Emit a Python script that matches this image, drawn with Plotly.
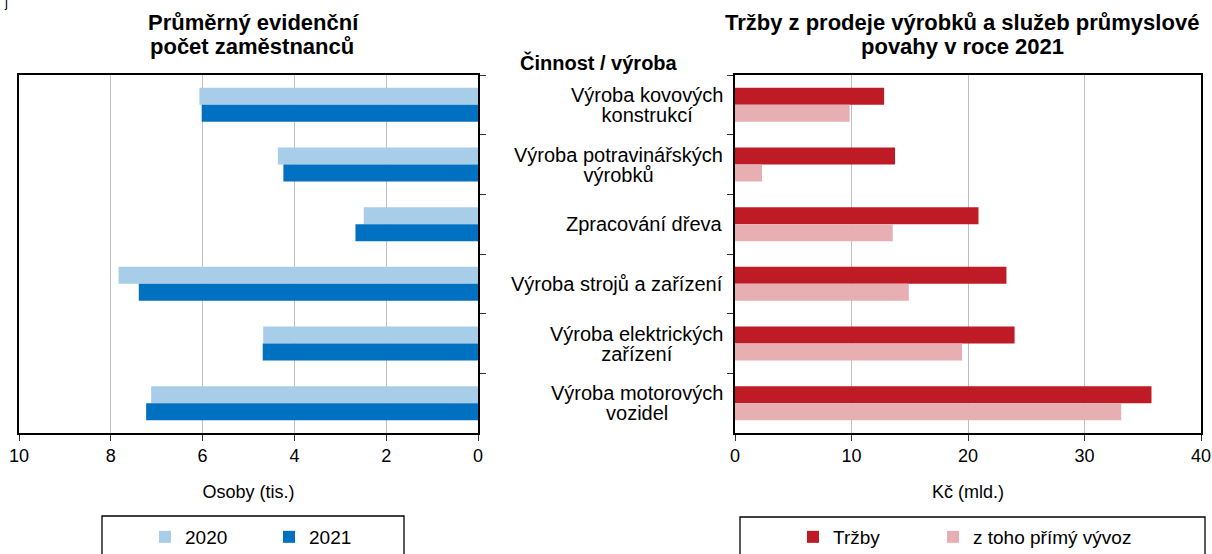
import plotly.graph_objects as go

W, H = 1212, 554

categories = [
    "Výroba kovových<br>konstrukcí",
    "Výroba potravinářských<br>výrobků",
    "Zpracování dřeva",
    "Výroba strojů a zařízení",
    "Výroba elektrických<br>zařízení",
    "Výroba motorových<br>vozidel",
]
cat_keys = ["c1", "c2", "c3", "c4", "c5", "c6"]

emp_2020 = [6.07, 4.36, 2.49, 7.83, 4.68, 7.12]
emp_2021 = [6.02, 4.24, 2.67, 7.39, 4.69, 7.23]

trzby = [12.8, 13.74, 20.9, 23.3, 24.0, 35.75]
vyvoz = [9.84, 2.32, 13.54, 14.92, 19.49, 33.15]

left_ticks = [10, 8, 6, 4, 2, 0]
right_ticks = [0, 10, 20, 30, 40]

C2020 = "#A7CDE8"
C2021 = "#0070C0"
CTRZ = "#BE1B26"
CVYV = "#E8AFB3"

FONT = "Liberation Sans, Arial, sans-serif"


def fx(px):
    return px / W


def fy(py):
    return 1 - py / H


fig = go.Figure()

fig.add_trace(go.Bar(y=cat_keys, x=emp_2020, orientation="h", name="2020",
                     marker=dict(color=C2020, line=dict(width=0)),
                     xaxis="x", yaxis="y", legend="legend", legendwidth=79))
fig.add_trace(go.Bar(y=cat_keys, x=emp_2021, orientation="h", name="2021",
                     marker=dict(color=C2021, line=dict(width=0)),
                     xaxis="x", yaxis="y", legend="legend", legendwidth=79))
fig.add_trace(go.Bar(y=cat_keys, x=trzby, orientation="h", name="Tržby",
                     marker=dict(color=CTRZ, line=dict(width=0)),
                     xaxis="x2", yaxis="y2", legend="legend2", legendwidth=95))
fig.add_trace(go.Bar(y=cat_keys, x=vyvoz, orientation="h", name="z toho přímý vývoz",
                     marker=dict(color=CVYV, line=dict(width=0)),
                     xaxis="x2", yaxis="y2", legend="legend2", legendwidth=190))

axis_common = dict(showline=True, linecolor="black", linewidth=1.6, mirror=True,
                   ticks="outside", ticklen=6, tickwidth=1.3, tickcolor="#333",
                   zeroline=False, automargin=False)

fig.update_layout(
    width=W, height=H,
    margin=dict(l=0, r=0, t=0, b=0, pad=0, autoexpand=False),
    paper_bgcolor="white", plot_bgcolor="white",
    font=dict(family=FONT, color="black", size=16),
    barmode="group", bargap=0.43, bargroupgap=0,
    xaxis=dict(domain=[fx(19), fx(478)], range=[10, 0], tickvals=left_ticks,
               showgrid=True, gridcolor="#C0C0C0", gridwidth=1,
               tickfont=dict(size=18), ticklabelstandoff=0,
               title=dict(text="Osoby (tis.)", font=dict(size=18), standoff=20),
               anchor="y", **axis_common),
    yaxis=dict(domain=[fy(433), fy(75)], type="category", categoryarray=cat_keys,
               range=[5.5, -0.5], side="right", tickson="boundaries",
               showticklabels=False, showgrid=False, anchor="x", **axis_common),
    xaxis2=dict(domain=[fx(735), fx(1201)], range=[0, 40], tickvals=right_ticks,
                showgrid=True, gridcolor="#C0C0C0", gridwidth=1,
                tickfont=dict(size=18), ticklabelstandoff=0,
                title=dict(text="Kč (mld.)", font=dict(size=18), standoff=20),
                anchor="y2", **axis_common),
    yaxis2=dict(domain=[fy(433), fy(75)], type="category", categoryarray=cat_keys,
                range=[5.5, -0.5], side="left", tickson="boundaries",
                showticklabels=False, showgrid=False, anchor="x2", **axis_common),
    legend=dict(orientation="h", x=fx(145), y=fy(537), xanchor="left", yanchor="middle",
                font=dict(size=19), bgcolor="rgba(0,0,0,0)",
                borderwidth=0, traceorder="normal"),
    legend2=dict(orientation="h", x=fx(793), y=fy(537), xanchor="left", yanchor="middle",
                 font=dict(size=19), bgcolor="rgba(0,0,0,0)",
                 borderwidth=0, traceorder="normal"),
    showlegend=True,
)

# legend boxes
fig.add_shape(type="rect", xref="paper", yref="paper",
              x0=fx(102), x1=fx(404), y0=fy(560), y1=fy(516),
              line=dict(color="black", width=1.3), fillcolor="rgba(0,0,0,0)", layer="below")
fig.add_shape(type="rect", xref="paper", yref="paper",
              x0=fx(740), x1=fx(1205), y0=fy(560), y1=fy(517),
              line=dict(color="black", width=1.3), fillcolor="rgba(0,0,0,0)", layer="below")

annotations = [
    dict(text="<b>Průměrný evidenční</b>", x=fx(253), y=fy(22),
         xanchor="center", yanchor="middle", font=dict(size=22)),
    dict(text="<b>počet zaměstnanců</b>", x=fx(252), y=fy(47),
         xanchor="center", yanchor="middle", font=dict(size=22)),
    dict(text="<b>Tržby z prodeje výrobků a služeb průmyslové</b>",
         x=fx(962), y=fy(22), xanchor="center", yanchor="middle", font=dict(size=22)),
    dict(text="<b>povahy v roce 2021</b>",
         x=fx(962), y=fy(47), xanchor="center", yanchor="middle", font=dict(size=22)),
    dict(text="<b>Činnost / výroba</b>", x=fx(518), y=fy(62), xanchor="left",
         yanchor="middle", font=dict(size=20)),
    dict(text="j", x=fx(2), y=fy(3), xanchor="left", yanchor="middle", font=dict(size=13)),
]
for key, label in zip(cat_keys, categories):
    styled = "<br>".join(
        '<span style="font-size:20px">' + part + "</span>" for part in label.split("<br>")
    )
    annotations.append(dict(text=styled, xref="paper", yref="y2", x=fx(725), y=key,
                            xanchor="right", yanchor="middle", align="center",
                            showarrow=False, font=dict(size=15.5)))
for a in annotations:
    a.setdefault("xref", "paper")
    a.setdefault("yref", "paper")
    a.setdefault("showarrow", False)
fig.update_layout(annotations=annotations)

fig.write_html(
    "out.html",
    config={"displayModeBar": False},
    post_script="document.body.style.margin='0';document.body.style.padding='0';"
                "document.body.style.overflow='hidden';",
)
